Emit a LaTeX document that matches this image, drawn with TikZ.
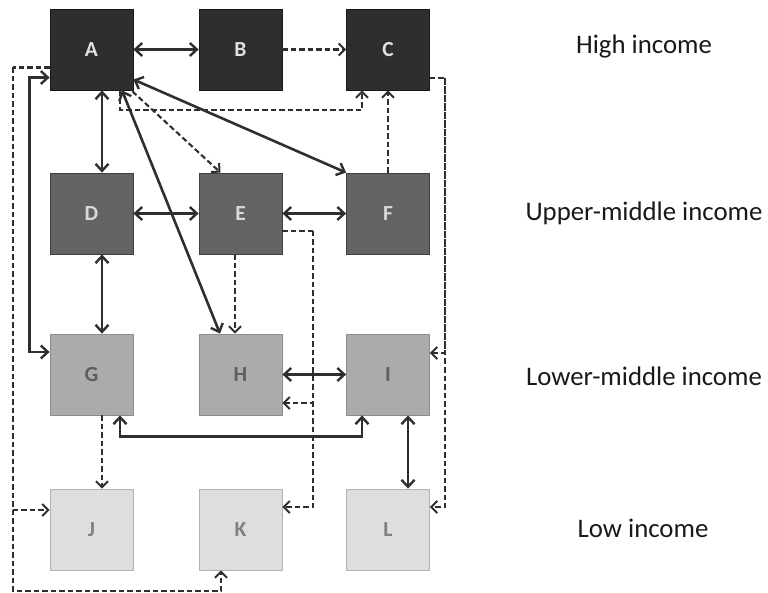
\documentclass[tikz,border=0pt]{standalone}
\usepackage{fontspec}
\setmainfont{Carlito}
\usetikzlibrary{arrows.meta}
\definecolor{rowone}{HTML}{2E2E2E}
\definecolor{rowtwo}{HTML}{636363}
\definecolor{rowthree}{HTML}{ABABAB}
\definecolor{rowfour}{HTML}{DEDEDE}
\definecolor{linecol}{HTML}{2F2F2F}
\tikzset{
  box/.style={minimum width=83pt, minimum height=81pt, inner sep=0pt, line width=0.8pt,
    font=\fontsize{21.5}{24}\selectfont\bfseries},
  boxone/.style={box, fill=rowone, draw=black!90, text=black!12},
  boxtwo/.style={box, fill=rowtwo, draw=black!75, text=black!15},
  boxthree/.style={box, fill=rowthree, draw=black!45, text=black!63},
  boxfour/.style={box, fill=rowfour, draw=black!30, text=black!50},
  sol/.style={draw=linecol, line width=2.6pt, arrows={Straight Barb[length=7pt,width=13pt,line width=2.4pt]-Straight Barb[length=7pt,width=13pt,line width=2.4pt]}},
  dsh/.style={draw=linecol, line width=2.1pt, dash pattern=on 5.5pt off 3pt, -{Straight Barb[length=6pt,width=12pt,line width=2pt]}},
  lbl/.style={font=\fontsize{26.8}{31}\selectfont, text=black!90}
}
\begin{document}
\begin{tikzpicture}[x=1pt, y=-1pt]
\useasboundingbox (0,0) rectangle (768,593);
% boxes
\node[boxone] (A) at (91.5,49.5) {A};
\node[boxone] (B) at (240.5,49.5) {B};
\node[boxone] (C) at (388,49.5) {C};
\node[boxtwo] (D) at (91.5,213.5) {D};
\node[boxtwo] (E) at (240.5,213.5) {E};
\node[boxtwo] (F) at (388,213.5) {F};
\node[boxthree] (G) at (91.5,374.5) {G};
\node[boxthree] (H) at (240.5,374.5) {H};
\node[boxthree] (I) at (388,374.5) {I};
\node[boxfour] (J) at (91.5,529.5) {J};
\node[boxfour] (K) at (240.5,529.5) {K};
\node[boxfour] (L) at (388,529.5) {L};
% labels
\node[lbl] (l1) at (644,47) {High income};
\node[lbl] (l2) at (644,213) {Upper-middle income};
\node[lbl] (l3) at (644,376) {Lower-middle income};
\node[lbl] (l4) at (643,528) {Low income};
% coordinates
\coordinate (c1) at (445,78);
\coordinate (j1) at (13,67.5);
\coordinate (k1) at (13,591);
\coordinate (e1) at (313,231);
% connectors row 1
\draw[sol] (A.east) -- (B.west);
\draw[dsh] (B.east) -- (C.west);
\draw[dsh] ([xshift=28.5pt]A.south) -- ++(0,19.5) -| ([xshift=-26pt]C.south);
\draw[dsh] ([xshift=-1pt,yshift=-1pt]A.south east) -- ([xshift=-20pt]E.north);
\draw[sol] ([yshift=-30pt]A.east) -- (F.north west);
\draw[sol] ([xshift=30.5pt]A.south) -- ([xshift=-20.5pt]H.north);
\draw[sol] ([xshift=10.5pt]A.south) -- ([xshift=10.5pt]D.north);
\draw[dsh] (F.north) -- (C.south);
\draw[dsh] ([yshift=-28.5pt]C.east) -- (c1) |- ([yshift=21.5pt]I.east);
\draw[dsh] (c1) |- ([yshift=22.5pt]L.east);
\draw[sol] ([yshift=-28pt]A.west) -- ++(-20,0) |- ([yshift=22.5pt]G.west);
\draw[dsh, -] ([yshift=-18pt]A.west) -- (j1);
\draw[dsh] (j1) |- ([yshift=19.5pt]J.west);
\draw[dsh] (j1) -- (k1) -| ([xshift=-19.5pt]K.south);
% row 2
\draw[sol] (D.east) -- (E.west);
\draw[sol] (E.east) -- (F.west);
\draw[sol] ([xshift=10.5pt]D.south) -- ([xshift=10.5pt]G.north);
\draw[dsh] ([xshift=-5.5pt]E.south) -- ([xshift=-5.5pt]H.north);
\draw[dsh, -] ([yshift=-17.5pt]E.east) -- (e1);
\draw[dsh] (e1) |- ([yshift=22.5pt]K.east);
\draw[dsh] (e1) |- ([yshift=-28.5pt]H.east);
% row 3
\draw[sol] (H.east) -- (I.west);
\draw[sol] ([xshift=28.5pt]G.south) -- ++(0,21) -| ([xshift=-26pt]I.south);
\draw[dsh] ([xshift=10.5pt]G.south) -- ([xshift=10.5pt]J.north);
\draw[sol] ([xshift=20pt]I.south) -- ([xshift=20pt]L.north);
\end{tikzpicture}
\end{document}
